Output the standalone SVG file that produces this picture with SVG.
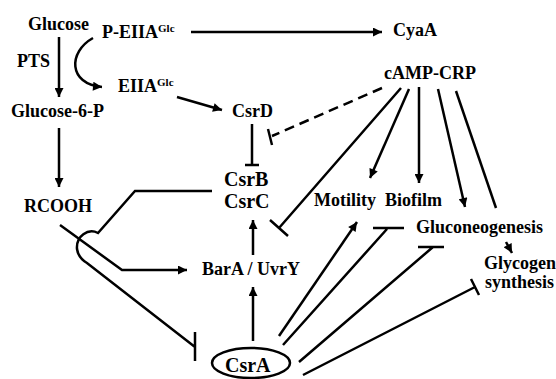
<svg xmlns="http://www.w3.org/2000/svg" width="556" height="379" viewBox="0 0 556 379">
<style>
text{font-family:"Liberation Serif","Tinos","Times New Roman","DejaVu Serif",serif;font-weight:bold;font-size:18px;fill:#000}
.big{font-size:20px}
.sup{font-size:11px}
.c{fill:none;stroke:#000;stroke-width:2.5}
.d{stroke-dasharray:10 6}
</style>
<defs>
<marker id="arr" viewBox="0 0 10 10" refX="10" refY="5" markerWidth="10" markerHeight="9" orient="auto" markerUnits="userSpaceOnUse">
<path d="M0,0 L10,5 L0,10 z" fill="#000"/>
</marker>
</defs>
<rect width="556" height="379" fill="#fff"/>
<g id="connectors">
<path class="c" d="M59 37 V97" marker-end="url(#arr)"/>
<path class="c" d="M93 38 C68 52, 68 84, 102 87" marker-end="url(#arr)"/>
<path class="c" d="M191 32 H382" marker-end="url(#arr)"/>
<path class="c" d="M177 97 L222 110" marker-end="url(#arr)"/>
<path class="c" d="M252 124 V165 M245 165 H259"/>
<path class="c" d="M59 128 V187" marker-end="url(#arr)"/>
<path class="c d" d="M382 88 L272 136"/>
<path class="c" d="M268 129 L272 145"/>
<path class="c" d="M401 88 L279 228 M270 220 L288 236"/>
<path class="c" d="M409 89 L370 178" marker-end="url(#arr)"/>
<path class="c" d="M419 87 V183" marker-end="url(#arr)"/>
<path class="c" d="M438 89 L465 207" marker-end="url(#arr)"/>
<path class="c" d="M456 91 L496 208"/>
<path class="c" d="M506 242 L512 253" marker-end="url(#arr)"/>
<path class="c" d="M212 191 H135 L98 233 C88 228, 76 236, 77 249 C78 256, 82 260, 87 263 L195 347 M195 332 V361"/>
<path class="c" d="M60 225 L122 270 H187" marker-end="url(#arr)"/>
<path class="c" d="M253 255 V220" marker-end="url(#arr)"/>
<path class="c" d="M253 341 V287" marker-end="url(#arr)"/>
<path class="c" d="M279 336 L357 222" marker-end="url(#arr)"/>
<path class="c" d="M283 345 L387 229 M373 228 H404"/>
<path class="c" d="M299 362 L433 247 M418 247 H444"/>
<path class="c" d="M303 375 L475 287 M471 279 L479 295"/>
</g>
<g id="glucose"><text x="28" y="30">Glucose</text></g>
<g id="p-eiia"><text x="102" y="38">P-EIIA<tspan class="sup" dy="-6">Glc</tspan></text></g>
<g id="pts"><text x="17" y="67">PTS</text></g>
<g id="glucose-6-p"><text x="11" y="117">Glucose-6-P</text></g>
<g id="eiia"><text x="118" y="92">EIIA<tspan class="sup" dy="-6">Glc</tspan></text></g>
<g id="csrd"><text x="232" y="117">CsrD</text></g>
<g id="csrbc"><text class="big" x="224" y="186">CsrB</text><text class="big" x="224" y="208">CsrC</text></g>
<g id="rcooh"><text x="24" y="212">RCOOH</text></g>
<g id="bara-uvry"><text x="202" y="275">BarA / UvrY</text></g>
<g id="csra"><ellipse class="c" cx="251" cy="363" rx="39" ry="15"/><text class="big" x="225" y="372">CsrA</text></g>
<g id="cyaa"><text x="393" y="36">CyaA</text></g>
<g id="camp-crp"><text x="384" y="79">cAMP-CRP</text></g>
<g id="motility"><text x="314" y="206">Motility</text></g>
<g id="biofilm"><text x="385" y="206">Biofilm</text></g>
<g id="gluconeogenesis"><text x="416" y="233">Gluconeogenesis</text></g>
<g id="glycogen"><text x="484" y="269">Glycogen</text><text x="485" y="288">synthesis</text></g>
</svg>
